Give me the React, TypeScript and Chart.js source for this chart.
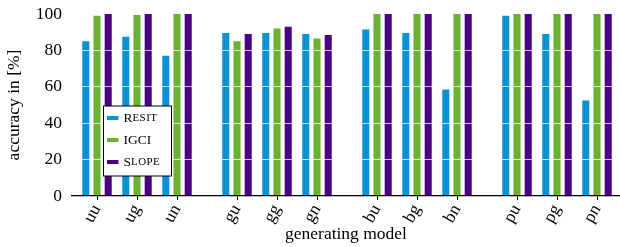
import React, { useEffect, useRef } from "react";
import { Chart, registerables } from "chart.js";

Chart.register(...registerables);

const groups: string[][] = [
  ["uu", "ug", "un"],
  ["gu", "gg", "gn"],
  ["bu", "bg", "bn"],
  ["pu", "pg", "pn"],
];
const categories: string[] = groups.flat();

const resit: number[] = [85, 87.5, 77, 89.5, 89.5, 89, 91.5, 89.5, 58.5, 99, 89, 52.5];
const igci: number[] = [99, 99.5, 100, 85, 92, 86.5, 100, 100, 100, 100, 100, 100];
const slope: number[] = [100, 100, 100, 89, 93, 88.5, 100, 100, 100, 100, 100, 100];

const seriesNames = ["Resit", "IGCI", "Slope"];
const yTicks: number[] = [0, 20, 40, 60, 80, 100];

const COLORS = ["#0A93D2", "#6BB133", "#4B0082"];
const FONT = "'Liberation Serif', 'DejaVu Serif', serif";
const FS = 17.5;

// category positions: a gap of half a slot between groups
const positions: number[] = [];
groups.forEach((g, gi) => g.forEach((_, i) => positions.push(gi * 3.5 + i)));

const toPoints = (vals: number[]) => vals.map((v, i) => ({ x: positions[i], y: v }));

function drawSmallCaps(ctx: CanvasRenderingContext2D, text: string, x: number, y: number, big: number, small: number) {
  let cx = x;
  for (const ch of text) {
    const isUpper = ch === ch.toUpperCase();
    ctx.font = `${isUpper ? big : small}px ${FONT}`;
    const s = ch.toUpperCase();
    ctx.fillText(s, cx, y);
    cx += ctx.measureText(s).width + (isUpper ? 0 : 0.4);
  }
}

const legendPlugin = {
  id: "insideLegend",
  afterDraw(chart: any) {
    const { ctx, chartArea } = chart;
    const left = chartArea.left + 31.5;
    const top = chartArea.top + 92;
    const w = 68;
    const h = 70;
    ctx.save();
    ctx.fillStyle = "#fff";
    ctx.fillRect(left, top, w, h);
    ctx.strokeStyle = "#000";
    ctx.lineWidth = 1;
    ctx.strokeRect(left, top, w, h);
    chart.data.datasets.forEach((ds: any, i: number) => {
      const cy = top + 12 + i * 22;
      ctx.fillStyle = ds.backgroundColor;
      ctx.fillRect(left + 3.5, cy - 2, 11.5, 4);
      ctx.fillStyle = "#000";
      ctx.textBaseline = "middle";
      ctx.textAlign = "left";
      drawSmallCaps(ctx, ds.label, left + 20, cy + 0.5, 13.5, 11);
    });
    ctx.restore();
  },
};

export default function App() {
  const ref = useRef<HTMLCanvasElement>(null);
  useEffect(() => {
    if (!ref.current) return;
    const chart = new Chart(ref.current, {
      type: "bar",
      data: {
        datasets: [resit, igci, slope].map((vals, i) => ({
          label: seriesNames[i],
          data: toPoints(vals),
          backgroundColor: COLORS[i],
          borderWidth: 0,
          categoryPercentage: 0.84,
          barPercentage: 0.63,
        })),
      },
      options: {
        animation: false,
        responsive: false,
        devicePixelRatio: 1,
        layout: { padding: { top: 14, right: 0, left: 0, bottom: 0 } },
        plugins: { legend: { display: false }, tooltip: { enabled: false } },
        scales: {
          x: {
            type: "linear",
            offset: false,
            min: -0.625,
            max: 13.075,
            afterBuildTicks: (scale: any) => {
              scale.ticks = positions.map((p) => ({ value: p }));
            },
            afterFit: (scale: any) => {
              scale.height = 51;
              scale.paddingLeft = 0;
              scale.paddingRight = 0;
              scale.paddingTop = 0;
              scale.paddingBottom = 0;
            },
            ticks: {
              autoSkip: false,
              minRotation: 60,
              maxRotation: 60,
              padding: 1,
              color: "#000",
              font: { family: FONT, size: FS },
              callback: (v: any) => {
                const idx = positions.indexOf(Number(v));
                return idx >= 0 ? categories[idx] : "";
              },
            },
            grid: { offset: false, drawOnChartArea: false, color: "#000", tickLength: 4, tickWidth: 1 },
            border: { display: true, color: "#000", width: 1.2, z: 2 },
            title: {
              display: true,
              text: "generating model",
              color: "#000",
              font: { family: FONT, size: FS },
              padding: { top: 0, bottom: 2 },
            },
          },
          y: {
            min: 0,
            max: 100,
            afterBuildTicks: (scale: any) => {
              scale.ticks = yTicks.map((v) => ({ value: v }));
            },
            afterFit: (scale: any) => {
              scale.width = 72;
              scale.paddingTop = 0;
              scale.paddingBottom = 0;
              scale.paddingLeft = 0;
              scale.paddingRight = 0;
            },
            ticks: {
              color: "#000",
              padding: 10,
              font: { family: FONT, size: FS },
            },
            grid: {
              z: 1,
              drawTicks: false,
              lineWidth: 1,
              color: (c: any) =>
                c.tick && (c.tick.value === 0 || c.tick.value === 100)
                  ? "rgba(255,255,255,0)"
                  : "rgba(255,255,255,0.75)",
            },
            border: { display: false },
            title: {
              display: true,
              text: "accuracy in [%]",
              color: "#000",
              font: { family: FONT, size: FS },
              padding: { top: 4, bottom: 0 },
            },
          },
        },
      },
      plugins: [legendPlugin],
    });
    return () => chart.destroy();
  }, []);
  return (
    <div style={{ position: "fixed", left: 0, top: 0, width: 620, height: 247, background: "#fff" }}>
      <canvas ref={ref} width={620} height={247} style={{ display: "block" }} />
    </div>
  );
}
